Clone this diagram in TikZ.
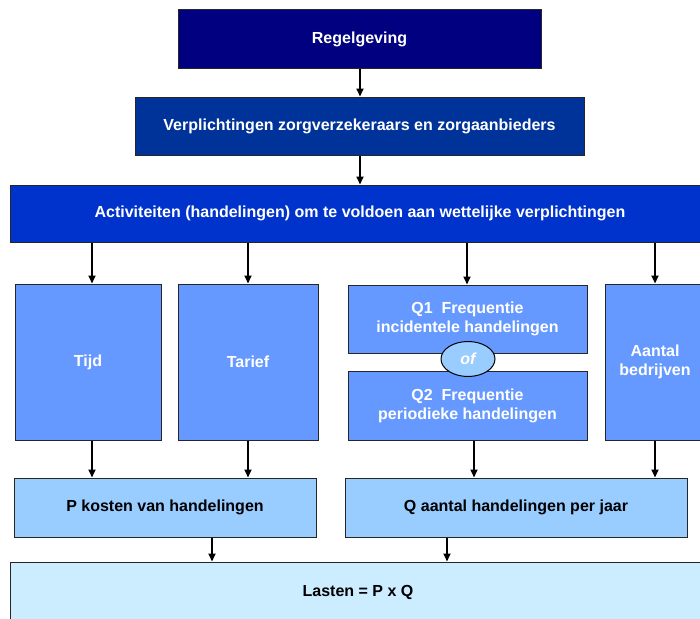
\documentclass[tikz,border=0pt]{standalone}
\usepackage{fontspec}
\setmainfont{Liberation Sans}
\usetikzlibrary{arrows.meta,shapes.geometric}
\definecolor{cNavy}{HTML}{000080}
\definecolor{cBlue2}{HTML}{003399}
\definecolor{cBlue3}{HTML}{0033CC}
\definecolor{cMid}{HTML}{6699FF}
\definecolor{cLight}{HTML}{99CCFF}
\definecolor{cPale}{HTML}{CCECFF}
\tikzset{
  box/.style={draw=black!85, line width=1pt, rectangle, inner sep=0pt, align=center,
     font=\fontsize{16}{19}\selectfont\bfseries},
  wbox/.style={box, text=white},
  kbox/.style={box, text=black},
  arr/.style={line width=1.8pt, -{Triangle[length=8pt,width=7pt]}},
  ovl/.style={ellipse, draw=black, line width=1pt, fill=cLight, inner sep=0pt,
     minimum width=54pt, minimum height=35pt, text=white,
     font=\fontsize{16}{19}\selectfont\bfseries\itshape}
}
\begin{document}
\begin{tikzpicture}[x=1pt,y=-1pt]
\clip (0,0) rectangle (700,618);
\fill[white] (0,0) rectangle (700,618);

\node[wbox, fill=cNavy, minimum width=363pt, minimum height=58pt] (reg) at (359.5,39) {Regelgeving};
\node[wbox, fill=cBlue2, minimum width=449pt, minimum height=58pt] (ver) at (359.5,126) {Verplichtingen zorgverzekeraars en zorgaanbieders};
\node[wbox, fill=cBlue3, minimum width=700pt, minimum height=57pt] (act) at (360,213.5) {Activiteiten (handelingen) om te voldoen aan wettelijke verplichtingen};

\node[wbox, fill=cMid, minimum width=146pt, minimum height=156pt] (tijd) at (88,362) {Tijd};
\node[wbox, fill=cMid, minimum width=140pt, minimum height=156pt] (tar) at (248,362) {Tarief};
\node[wbox, fill=cMid, minimum width=239pt, minimum height=68pt] (q1) at (467.5,319) {Q1\ \ Frequentie\\incidentele handelingen};
\node[wbox, fill=cMid, minimum width=239pt, minimum height=69pt] (q2) at (467.5,405.5) {Q2\ \ Frequentie\\periodieke handelingen};
\node[ovl] (of) at (468,359) {of};
\node[wbox, fill=cMid, minimum width=100pt, minimum height=156pt] (aan) at (655,362) {Aantal\\bedrijven};

\node[kbox, fill=cLight, minimum width=302pt, minimum height=59pt] (p) at (165,507.5) {P kosten van handelingen};
\node[kbox, fill=cLight, minimum width=342pt, minimum height=59pt] (q) at (516,507.5) {Q aantal handelingen per jaar};
\node[kbox, fill=cPale, minimum width=696pt, minimum height=60pt] (las) at (358,592) {Lasten = P x Q};

\draw[arr] (reg.south -| 360,0) -- (ver.north -| 360,0);
\draw[arr] (ver.south -| 360,0) -- (act.north -| 360,0);
\draw[arr] (act.south -| 92,0) -- (tijd.north -| 92,0);
\draw[arr] (act.south -| 248,0) -- (tar.north -| 248,0);
\draw[arr] (act.south -| 467,0) -- (q1.north -| 467,0);
\draw[arr] (act.south -| 655,0) -- (aan.north -| 655,0);
\draw[arr] (tijd.south -| 92,0) -- (p.north -| 92,0);
\draw[arr] (tar.south -| 248,0) -- (p.north -| 248,0);
\draw[arr] (q2.south -| 474,0) -- (q.north -| 474,0);
\draw[arr] (aan.south -| 655,0) -- (q.north -| 655,0);
\draw[arr] (p.south -| 212,0) -- (las.north -| 212,0);
\draw[arr] (q.south -| 447,0) -- (las.north -| 447,0);
\end{tikzpicture}
\end{document}
